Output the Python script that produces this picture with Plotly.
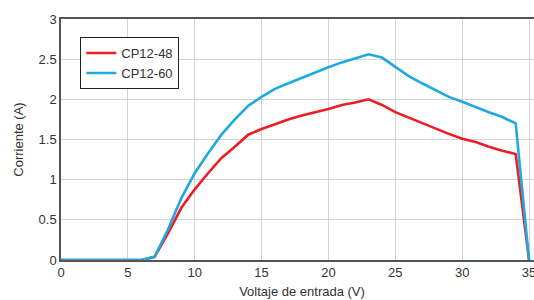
import plotly.graph_objects as go

volts = [0, 6, 7, 8, 9, 10, 11, 12, 13, 14, 15, 16, 17, 18, 19, 20, 21, 22, 23, 24, 25, 26, 27, 28, 29, 30, 31, 32, 33, 34, 35]
cp12_48 = [0, 0, 0.04, 0.33, 0.65, 0.88, 1.08, 1.27, 1.41, 1.56, 1.63, 1.69, 1.75, 1.80, 1.84, 1.88, 1.93, 1.96, 2.00, 1.93, 1.84, 1.77, 1.70, 1.64, 1.57, 1.51, 1.47, 1.41, 1.36, 1.32, 0]
cp12_60 = [0, 0, 0.04, 0.38, 0.77, 1.08, 1.33, 1.56, 1.75, 1.92, 2.03, 2.13, 2.20, 2.27, 2.34, 2.40, 2.46, 2.51, 2.56, 2.52, 2.40, 2.29, 2.20, 2.11, 2.03, 1.97, 1.90, 1.84, 1.78, 1.70, 0]

fig = go.Figure()
fig.add_trace(go.Scatter(x=volts, y=cp12_48, mode="lines", name="CP12-48",
                         line=dict(color="#ee1c25", width=2.6)))
fig.add_trace(go.Scatter(x=volts, y=cp12_60, mode="lines", name="CP12-60",
                         line=dict(color="#1ea9e1", width=2.6)))

font = dict(family="Liberation Sans, Arial, sans-serif", size=13, color="#333")
fig.update_layout(
    width=545, height=300,
    margin=dict(l=61, r=0, t=19, b=40),
    paper_bgcolor="white", plot_bgcolor="white",
    font=font,
    legend=dict(x=0.04, y=0.925, xanchor="left", yanchor="top",
                bordercolor="#222", borderwidth=1, bgcolor="white",
                font=dict(size=13, color="#333"), traceorder="normal",
                tracegroupgap=0, itemwidth=30),
    xaxis=dict(range=[0, 35 * 484 / 470], tickvals=[0, 5, 10, 15, 20, 25, 30, 35],
               showgrid=True, gridcolor="#d4d4d4", gridwidth=1,
               showline=True, linecolor="#555", linewidth=1.5, mirror=True,
               zeroline=False, ticks="", tickfont=dict(size=13, color="#333"),
               ticklabeloverflow="allow",
               title=dict(text="Voltaje de entrada (V)", font=dict(size=13, color="#333"), standoff=8)),
    yaxis=dict(range=[0, 3], tickvals=[0, 0.5, 1, 1.5, 2, 2.5, 3],
               showgrid=True, gridcolor="#d4d4d4", gridwidth=1,
               showline=True, linecolor="#555", linewidth=1.5, mirror=True,
               zeroline=False, ticks="", tickfont=dict(size=13, color="#333"),
               title=dict(text="Corriente (A)", font=dict(size=13, color="#333"), standoff=12)),
)
fig.write_html("out.html", config={"displayModeBar": False},
               post_script="document.body.style.margin='0';document.body.style.overflow='hidden';")
